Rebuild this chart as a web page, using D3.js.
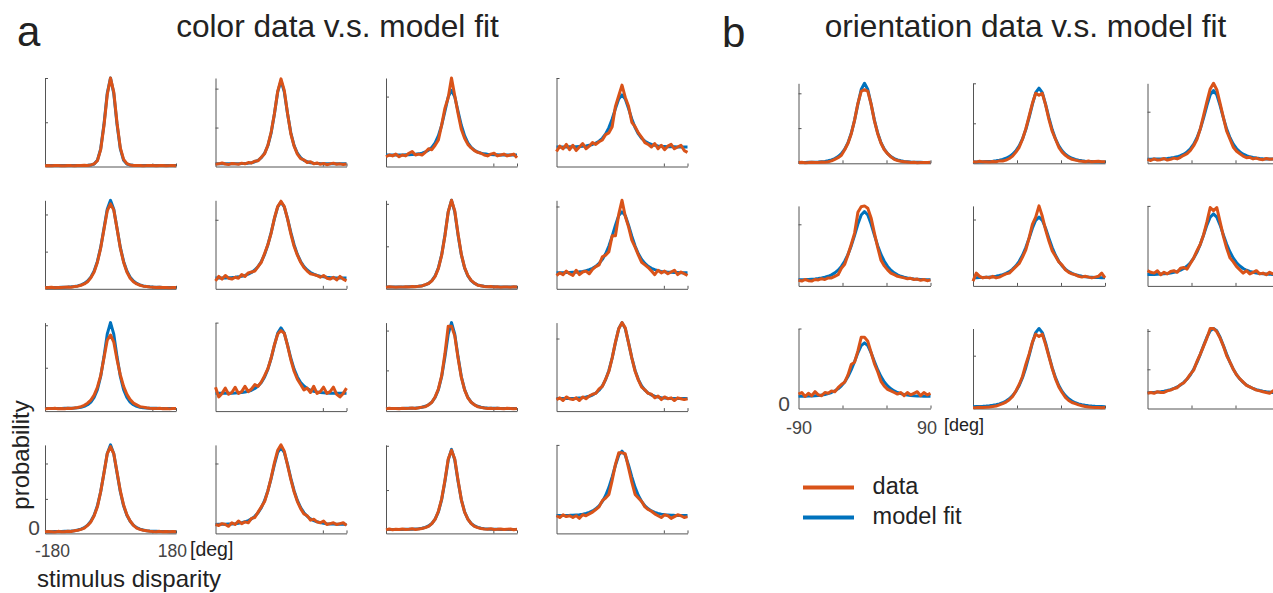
<!DOCTYPE html>
<html>
<head>
<meta charset="utf-8">
<script src="https://cdn.jsdelivr.net/npm/d3@7"></script>
<style>
  body { margin: 0; background: #fff; }
  svg { display: block; font-family: "Liberation Sans", Arial, Helvetica, sans-serif; }
</style>
</head>
<body>
<svg id="chart" width="1273" height="593"></svg>
<script>
// x bins (deg)
var colorX = [-180,-171,-162,-153,-144,-135,-126,-117,-108,-99,-90,-81,-72,-63,-54,-45,-36,-27,-18,-9,0,9,18,27,36,45,54,63,72,81,90,99,108,117,126,135,144,153,162,171,180];
var orientX = [-90,-85.5,-81,-76.5,-72,-67.5,-63,-58.5,-54,-49.5,-45,-40.5,-36,-31.5,-27,-22.5,-18,-13.5,-9,-4.5,0,4.5,9,13.5,18,22.5,27,31.5,36,40.5,45,49.5,54,58.5,63,67.5,72,76.5,81,85.5,90];

// tick positions (probabilities are given relative to each subplot's y-limit)
var colorXTicks = [115, 180];
var orientXTicks = [-30, 30, 90];
var colorYTicks = [[.5,1],[.44,.88],[.79],[1],[.42,.84],[.78],[.48,.96],[.93],[.49,.97],[1],[.46,.91],[.82],[.39,.79],[.79],[.49,.99],[1]];
var orientYTicks = [[.44,.875],[.5,1],[.645],[.77],[.83],[1],[1],[.66],[.49,.97]];

// ---- color: model fit / data, row by row ----
var colorFit1 = [.01,.01,.01,.01,.01,.01,.01,.01,.01,.01,.01,.01,.011,.013,.016,.028,.07,.2,.474,.826,1,.826,.474,.2,.07,.028,.016,.013,.011,.01,.01,.01,.01,.01,.01,.01,.01,.01,.01,.01,.01];
var colorData1 = [.008,.01,.009,.011,.01,.008,.009,.012,.01,.009,.011,.01,.013,.012,.018,.03,.065,.19,.46,.81,1,.84,.49,.21,.08,.032,.018,.012,.01,.011,.009,.01,.012,.01,.008,.01,.011,.009,.01,.012,.009];
var colorFit2 = [.03,.03,.03,.03,.03,.03,.031,.032,.033,.035,.038,.043,.054,.07,.1,.15,.237,.38,.595,.844,.97,.844,.595,.38,.237,.15,.1,.07,.054,.043,.038,.035,.033,.032,.031,.03,.03,.03,.03,.03,.03];
var colorData2 = [.025,.03,.04,.028,.022,.035,.03,.026,.038,.03,.045,.04,.06,.065,.105,.145,.24,.39,.6,.85,.99,.86,.6,.37,.23,.14,.09,.075,.045,.055,.03,.04,.025,.035,.02,.03,.038,.025,.03,.022,.028];
var colorFit3 = [.13,.13,.13,.131,.131,.131,.132,.133,.135,.138,.143,.151,.164,.184,.217,.268,.348,.466,.624,.786,.86,.786,.624,.466,.348,.268,.217,.184,.164,.151,.143,.138,.135,.133,.132,.131,.131,.131,.13,.13,.13];
var colorData3 = [.11,.13,.12,.14,.11,.13,.12,.15,.17,.13,.14,.13,.16,.2,.19,.24,.3,.47,.66,.78,1,.8,.6,.42,.32,.25,.21,.18,.16,.15,.13,.12,.14,.15,.12,.13,.14,.12,.13,.14,.1];
var colorFit4 = [.221,.221,.221,.221,.222,.222,.224,.226,.228,.233,.239,.249,.264,.286,.319,.368,.439,.536,.654,.763,.81,.763,.654,.536,.439,.368,.319,.286,.264,.249,.239,.233,.228,.226,.224,.222,.222,.221,.221,.221,.221];
var colorData4 = [.17,.23,.2,.25,.19,.24,.18,.22,.26,.2,.23,.27,.25,.28,.3,.36,.38,.45,.68,.8,.92,.78,.68,.5,.45,.38,.33,.27,.25,.22,.26,.2,.24,.19,.23,.25,.2,.22,.24,.18,.16];
var colorFit5 = [.015,.015,.015,.016,.016,.017,.018,.019,.022,.026,.033,.044,.06,.088,.132,.201,.309,.468,.682,.9,1,.9,.682,.468,.309,.201,.132,.088,.06,.044,.033,.026,.022,.019,.018,.017,.016,.016,.015,.015,.015];
var colorData5 = [.012,.015,.018,.013,.016,.014,.017,.02,.018,.025,.03,.04,.055,.08,.125,.19,.3,.46,.67,.88,.96,.89,.68,.46,.3,.19,.12,.08,.055,.04,.03,.025,.02,.018,.015,.017,.014,.016,.013,.015,.014];
var colorFit6 = [.121,.122,.123,.123,.125,.127,.13,.135,.142,.151,.165,.184,.212,.252,.309,.389,.498,.637,.792,.926,.98,.926,.792,.637,.498,.389,.309,.252,.212,.184,.165,.151,.142,.135,.13,.127,.125,.123,.123,.122,.121];
var colorData6 = [.09,.14,.11,.15,.12,.11,.13,.12,.16,.14,.18,.19,.2,.25,.3,.4,.5,.63,.8,.93,.99,.93,.79,.62,.48,.38,.3,.24,.2,.17,.16,.15,.13,.15,.12,.11,.13,.1,.14,.11,.09];
var colorFit7 = [.02,.02,.02,.02,.02,.02,.021,.022,.023,.025,.028,.034,.045,.062,.093,.145,.236,.385,.609,.869,1,.869,.609,.385,.236,.145,.093,.062,.045,.034,.028,.025,.023,.022,.021,.02,.02,.02,.02,.02,.02];
var colorData7 = [.018,.022,.02,.017,.021,.019,.023,.02,.025,.022,.03,.032,.048,.06,.09,.14,.23,.38,.6,.87,1,.88,.62,.39,.24,.15,.095,.065,.04,.035,.027,.023,.025,.02,.022,.018,.021,.02,.017,.022,.02];
var colorFit8 = [.181,.181,.182,.183,.184,.186,.188,.192,.197,.205,.216,.231,.254,.286,.332,.396,.483,.595,.719,.827,.87,.827,.719,.595,.483,.396,.332,.286,.254,.231,.216,.205,.197,.192,.188,.186,.184,.183,.182,.181,.181];
var colorData8 = [.15,.18,.16,.2,.17,.15,.21,.16,.19,.2,.17,.22,.25,.27,.36,.38,.42,.6,.6,.84,1,.82,.7,.55,.47,.38,.3,.27,.24,.2,.16,.21,.18,.2,.17,.19,.21,.16,.19,.17,.15];
var colorFit9 = [.03,.03,.03,.03,.03,.03,.031,.032,.033,.035,.038,.044,.054,.072,.102,.154,.243,.391,.613,.87,1,.87,.613,.391,.243,.154,.102,.072,.054,.044,.038,.035,.033,.032,.031,.03,.03,.03,.03,.03,.03];
var colorData9 = [.025,.03,.028,.032,.027,.03,.026,.033,.03,.035,.04,.05,.065,.09,.125,.18,.27,.4,.6,.8,.86,.78,.58,.41,.28,.19,.13,.09,.07,.05,.045,.038,.033,.03,.028,.032,.027,.03,.025,.03,.028];
var colorFit10 = [.201,.201,.201,.201,.202,.203,.204,.207,.21,.216,.224,.236,.255,.283,.324,.386,.475,.597,.745,.882,.94,.882,.745,.597,.475,.386,.324,.283,.255,.236,.224,.216,.21,.207,.204,.203,.202,.201,.201,.201,.201];
var colorData10 = [.27,.16,.2,.26,.19,.21,.27,.2,.22,.28,.22,.25,.3,.28,.33,.4,.48,.6,.75,.87,.91,.88,.74,.58,.45,.36,.3,.24,.26,.21,.28,.2,.22,.27,.2,.22,.27,.19,.16,.2,.26];
var colorFit11 = [.03,.03,.03,.03,.03,.03,.031,.032,.033,.035,.038,.044,.054,.072,.102,.154,.243,.391,.613,.87,1,.87,.613,.391,.243,.154,.102,.072,.054,.044,.038,.035,.033,.032,.031,.03,.03,.03,.03,.03,.03];
var colorData11 = [.025,.032,.028,.03,.026,.033,.029,.031,.035,.03,.037,.045,.05,.07,.1,.16,.25,.4,.65,.96,.96,.85,.6,.38,.24,.15,.1,.07,.05,.042,.035,.03,.033,.028,.031,.03,.027,.032,.03,.026,.03];
var colorFit12 = [.141,.141,.141,.142,.143,.143,.145,.149,.152,.159,.168,.182,.204,.236,.284,.356,.46,.601,.773,.932,1,.932,.773,.601,.46,.356,.284,.236,.204,.182,.168,.159,.152,.149,.145,.143,.143,.142,.141,.141,.141];
var colorData12 = [.13,.15,.12,.16,.14,.13,.15,.12,.16,.14,.17,.19,.2,.25,.28,.36,.45,.6,.78,.93,1,.94,.77,.6,.45,.35,.27,.24,.2,.19,.15,.17,.13,.16,.14,.15,.12,.15,.14,.13,.14];
var colorFit13 = [.02,.02,.02,.021,.021,.022,.023,.024,.027,.031,.038,.048,.065,.093,.137,.205,.312,.471,.683,.901,1,.901,.683,.471,.312,.205,.137,.093,.065,.048,.038,.031,.027,.024,.023,.022,.021,.021,.02,.02,.02];
var colorData13 = [.018,.022,.02,.017,.023,.02,.019,.025,.022,.03,.035,.045,.06,.09,.13,.2,.3,.47,.68,.9,.98,.9,.69,.48,.32,.21,.14,.09,.06,.045,.035,.03,.025,.022,.02,.023,.018,.021,.019,.022,.02];
var colorFit14 = [.101,.102,.103,.103,.105,.107,.11,.115,.122,.131,.145,.164,.193,.234,.291,.372,.482,.623,.779,.915,.97,.915,.779,.623,.482,.372,.291,.234,.193,.164,.145,.131,.122,.115,.11,.107,.105,.103,.103,.102,.101];
var colorData14 = [.1,.09,.11,.1,.08,.12,.1,.14,.11,.13,.12,.17,.18,.24,.3,.36,.48,.63,.8,.94,1,.93,.77,.61,.47,.36,.28,.22,.2,.15,.16,.13,.12,.14,.1,.11,.12,.1,.11,.12,.09];
var colorFit15 = [.045,.045,.045,.045,.045,.045,.046,.047,.048,.05,.052,.058,.068,.084,.112,.161,.244,.382,.589,.829,.95,.829,.589,.382,.244,.161,.112,.084,.068,.058,.052,.05,.048,.047,.046,.045,.045,.045,.045,.045,.045];
var colorData15 = [.04,.05,.042,.048,.044,.05,.043,.047,.052,.045,.05,.055,.065,.08,.11,.16,.25,.39,.6,.84,.94,.84,.6,.38,.24,.16,.11,.08,.065,.055,.05,.048,.052,.044,.046,.05,.043,.047,.05,.042,.048];
var colorFit16 = [.201,.201,.202,.203,.204,.206,.209,.212,.218,.226,.238,.254,.278,.312,.361,.428,.52,.639,.77,.884,.93,.884,.77,.639,.52,.428,.361,.312,.278,.254,.238,.226,.218,.212,.209,.206,.204,.203,.202,.201,.201];
var colorData16 = [.2,.18,.21,.19,.2,.18,.2,.17,.21,.2,.22,.24,.27,.3,.37,.4,.44,.6,.78,.91,.91,.9,.74,.58,.44,.4,.36,.3,.27,.25,.22,.2,.18,.21,.2,.17,.19,.21,.2,.18,.19];

// ---- orientation: model fit / data, row by row ----
var orientFit1 = [.011,.011,.011,.012,.013,.014,.016,.02,.024,.032,.043,.059,.083,.121,.176,.258,.378,.541,.739,.922,1,.922,.739,.541,.378,.258,.176,.121,.083,.059,.043,.032,.024,.02,.016,.014,.013,.012,.011,.011,.011];
var orientData1 = [.01,.012,.008,.01,.013,.009,.011,.015,.012,.02,.03,.05,.07,.1,.17,.25,.37,.54,.75,.9,.92,.9,.74,.53,.37,.25,.17,.12,.08,.05,.035,.025,.02,.015,.01,.012,.008,.011,.009,.01,.012];
var orientFit2 = [.016,.017,.018,.019,.021,.022,.026,.031,.038,.048,.063,.083,.114,.157,.219,.305,.421,.571,.737,.882,.94,.882,.737,.571,.421,.305,.219,.157,.114,.083,.063,.048,.038,.031,.026,.022,.021,.019,.018,.017,.016];
var orientData2 = [.02,.015,.025,.018,.02,.015,.022,.02,.03,.028,.04,.06,.09,.14,.2,.3,.43,.59,.75,.875,.85,.875,.73,.55,.4,.3,.2,.14,.1,.07,.05,.04,.03,.025,.02,.028,.018,.022,.025,.02,.018];
var orientFit3 = [.051,.052,.053,.053,.055,.057,.06,.065,.072,.081,.095,.114,.142,.182,.239,.319,.428,.567,.722,.856,.91,.856,.722,.567,.428,.319,.239,.182,.142,.114,.095,.081,.072,.065,.06,.057,.055,.053,.053,.052,.051];
var orientData3 = [.05,.035,.055,.04,.045,.06,.04,.05,.065,.055,.075,.1,.12,.16,.22,.3,.43,.6,.77,.93,1,.92,.75,.57,.4,.3,.2,.15,.12,.09,.07,.075,.055,.065,.05,.045,.06,.05,.055,.045,.05];
var orientFit4 = [.078,.078,.079,.081,.084,.087,.092,.099,.108,.12,.138,.163,.197,.244,.308,.393,.503,.634,.773,.886,.93,.886,.773,.634,.503,.393,.308,.244,.197,.163,.138,.12,.108,.099,.092,.087,.084,.081,.079,.078,.078];
var orientData4 = [.07,.06,.08,.065,.06,.08,.075,.09,.08,.1,.1,.12,.14,.22,.27,.39,.52,.66,.92,.99,1,.97,.85,.66,.48,.32,.25,.2,.16,.14,.12,.11,.1,.09,.095,.08,.085,.07,.08,.065,.075];
var orientFit5 = [.102,.103,.104,.105,.108,.111,.115,.121,.13,.14,.156,.178,.209,.25,.307,.383,.48,.597,.72,.82,.86,.82,.72,.597,.48,.383,.307,.25,.209,.178,.156,.14,.13,.121,.115,.111,.108,.105,.104,.103,.102];
var orientData5 = [.06,.16,.12,.1,.11,.1,.12,.1,.11,.13,.15,.16,.2,.24,.28,.36,.45,.6,.77,.86,1,.87,.7,.56,.44,.37,.3,.26,.2,.17,.15,.14,.12,.11,.12,.11,.1,.11,.12,.16,.1];
var orientFit6 = [.142,.143,.144,.145,.148,.151,.155,.161,.17,.18,.196,.218,.249,.29,.347,.423,.52,.637,.76,.86,.9,.86,.76,.637,.52,.423,.347,.29,.249,.218,.196,.18,.17,.161,.155,.151,.148,.145,.144,.143,.142];
var orientData6 = [.19,.17,.16,.19,.14,.17,.15,.18,.19,.17,.22,.23,.21,.28,.35,.44,.52,.64,.8,.98,.94,.98,.8,.62,.47,.35,.3,.24,.2,.16,.19,.15,.17,.19,.15,.16,.14,.17,.15,.16,.15];
var orientFit7 = [.152,.153,.153,.155,.157,.159,.163,.169,.176,.186,.2,.219,.246,.283,.332,.399,.485,.588,.697,.785,.82,.785,.697,.588,.485,.399,.332,.283,.246,.219,.2,.186,.176,.169,.163,.159,.157,.155,.153,.153,.152];
var orientData7 = [.18,.2,.15,.19,.16,.21,.17,.16,.2,.19,.22,.21,.26,.3,.33,.42,.55,.58,.72,.89,.89,.84,.7,.56,.46,.34,.28,.24,.22,.2,.18,.2,.16,.2,.17,.19,.21,.16,.2,.17,.19];
var orientFit8 = [.023,.024,.025,.027,.03,.034,.04,.047,.058,.072,.093,.121,.16,.214,.287,.385,.51,.661,.82,.949,1,.949,.82,.661,.51,.385,.287,.214,.16,.121,.093,.072,.058,.047,.04,.034,.03,.027,.025,.024,.023];
var orientData8 = [.01,.012,.015,.013,.017,.02,.025,.03,.045,.06,.08,.11,.15,.22,.3,.4,.55,.68,.83,.93,.9,.93,.8,.65,.5,.37,.27,.2,.14,.1,.075,.06,.045,.035,.025,.02,.015,.013,.012,.01,.011];
var orientFit9 = [.196,.199,.201,.205,.21,.217,.225,.236,.25,.269,.294,.326,.368,.422,.491,.576,.677,.786,.891,.971,1,.971,.891,.786,.677,.576,.491,.422,.368,.326,.294,.269,.25,.236,.225,.217,.21,.205,.201,.199,.196];
var orientData9 = [.19,.2,.19,.21,.2,.2,.22,.23,.25,.26,.3,.32,.37,.43,.48,.59,.68,.78,.88,1,1,.96,.88,.78,.66,.58,.49,.42,.37,.33,.29,.27,.25,.23,.22,.21,.2,.19,.22,.19,.2];

var colorFits = [colorFit1,colorFit2,colorFit3,colorFit4,colorFit5,colorFit6,colorFit7,colorFit8,colorFit9,colorFit10,colorFit11,colorFit12,colorFit13,colorFit14,colorFit15,colorFit16];
var colorDatas = [colorData1,colorData2,colorData3,colorData4,colorData5,colorData6,colorData7,colorData8,colorData9,colorData10,colorData11,colorData12,colorData13,colorData14,colorData15,colorData16];
var orientFits = [orientFit1,orientFit2,orientFit3,orientFit4,orientFit5,orientFit6,orientFit7,orientFit8,orientFit9];
var orientDatas = [orientData1,orientData2,orientData3,orientData4,orientData5,orientData6,orientData7,orientData8,orientData9];

var BLUE = '#0072bd', ORANGE = '#d95319', AXIS = '#555', TEXT = '#222';

var svg = d3.select('#chart');

function drawSubplot(left, top, w, h, xs, xDomain, xTicks, yTicks, fit, data) {
    var g = svg.append('g');
    var x = d3.scaleLinear().domain(xDomain).range([left, left + w]);
    var y = d3.scaleLinear().domain([0, 1]).range([top + h, top]);

    g.append('g')
        .attr('transform', 'translate(0,' + (top + h) + ')')
        .call(d3.axisBottom(x).tickValues(xTicks).tickSizeInner(-3).tickSizeOuter(0).tickFormat(''));
    g.append('g')
        .attr('transform', 'translate(' + left + ',0)')
        .call(d3.axisLeft(y).tickValues(yTicks).tickSizeInner(-3).tickSizeOuter(0).tickFormat(''));
    g.selectAll('.domain, .tick line').attr('stroke', AXIS).attr('stroke-width', 1);

    var line = d3.line()
        .x(function(d, i) { return x(xs[i]); })
        .y(function(d) { return y(d); });

    // model fit underneath, data on top
    g.append('path').datum(fit)
        .attr('d', line).attr('fill', 'none')
        .attr('stroke', BLUE).attr('stroke-width', 3)
        .attr('stroke-linejoin', 'round');
    g.append('path').datum(data)
        .attr('d', line).attr('fill', 'none')
        .attr('stroke', ORANGE).attr('stroke-width', 3)
        .attr('stroke-linejoin', 'round');
}

// panel a: 4 x 4 grid
colorFits.forEach(function(fit, i) {
    var row = Math.floor(i / 4), col = i % 4;
    drawSubplot(45 + col * 170.5, 78 + row * 122.3, 131, 88.5,
        colorX, [-180, 180], colorXTicks, colorYTicks[i], fit, colorDatas[i]);
});

// panel b: 3 x 3 grid (right column runs past the edge)
orientFits.forEach(function(fit, i) {
    var row = Math.floor(i / 3), col = i % 3;
    drawSubplot(798.5 + col * 174.5, 83.3 + row * 122.6, 132, 80,
        orientX, [-90, 90], orientXTicks, orientYTicks[i], fit, orientDatas[i]);
});

function label(x, y, str, size, color, anchor) {
    return svg.append('text')
        .attr('x', x).attr('y', y)
        .attr('font-size', size)
        .attr('fill', color || TEXT)
        .attr('text-anchor', anchor || 'start')
        .text(str);
}

// panel letters & titles
label(17, 46, 'a', 42);
label(722, 47, 'b', 42);
label(337.5, 37, 'color data v.s. model fit', 31.6, TEXT, 'middle');
label(1025.5, 37, 'orientation data v.s. model fit', 31.6, TEXT, 'middle');

// panel a axis annotation
svg.append('text')
    .attr('transform', 'translate(29,455) rotate(-90)')
    .attr('font-size', 24).attr('fill', TEXT)
    .attr('text-anchor', 'middle')
    .text('probability');
label(40, 535, '0', 21, '#444', 'end');
label(35, 557, '-180', 17.5, '#444');
label(187, 557, '180', 17.5, '#444', 'end');
label(190, 556, '[deg]', 19.5);
label(37, 587, 'stimulus disparity', 24);

// panel b axis annotation
label(790, 411, '0', 21, '#444', 'end');
label(786, 434, '-90', 18, '#444');
label(937, 434, '90', 18, '#444', 'end');
label(944, 431, '[deg]', 18);

// legend
var legendItems = [['data', ORANGE], ['model fit', BLUE]];
legendItems.forEach(function(d, i) {
    var yy = 487.4 + i * 30;
    svg.append('line')
        .attr('x1', 803).attr('x2', 854).attr('y1', yy).attr('y2', yy)
        .attr('stroke', d[1]).attr('stroke-width', 4);
    label(872.6, yy + 6.5, d[0], 23.5);
});
</script>
</body>
</html>
